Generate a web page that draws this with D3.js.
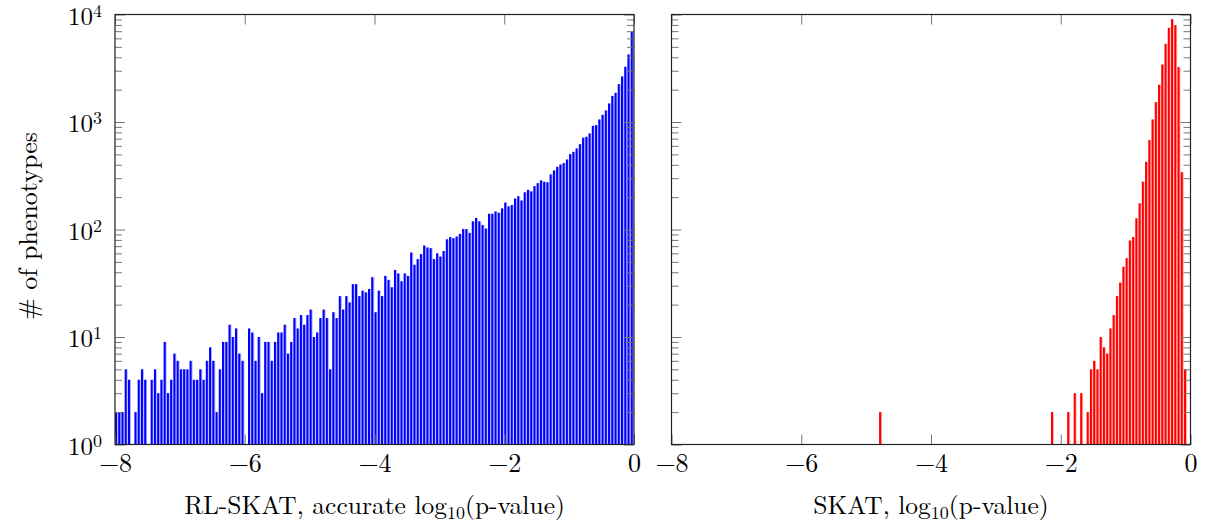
<!DOCTYPE html>
<html>
<head>
<meta charset="utf-8">
<script src="https://cdn.jsdelivr.net/npm/d3@7"></script>
<style>
  body { margin: 0; background: #fff; }
  text { font-family: "Latin Modern Roman", "CMU Serif", "Liberation Serif", serif; fill: #000; }
</style>
</head>
<body>
<script>
// histogram bins: 160 bins of width 0.05 from -8 to 0
var binStart = -8, binWidth = 0.05;

// RL-SKAT, accurate log10(p-value)
var rlskatCounts = [
  2, 2, 2, 5, 4, 1, 2, 4, 5, 4, 1, 4, 5, 3, 4, 9, 3, 4, 7, 6,
  5, 5, 5, 6, 4, 4, 5, 4, 6, 8, 6, 2, 5, 9, 9, 13, 10, 12, 7, 6,
  1, 12, 11, 6, 10, 3, 9, 9, 6, 9, 11, 11, 13, 7, 9, 15, 12, 16, 13, 16,
  18, 10, 11, 15, 18, 15, 5, 17, 15, 24, 18, 24, 21, 31, 31, 24, 27, 26, 28, 36,
  17, 27, 24, 37, 34, 29, 42, 39, 33, 39, 37, 61, 47, 53, 59, 71, 68, 67, 53, 60,
  56, 63, 81, 85, 83, 86, 91, 101, 101, 93, 119, 128, 119, 110, 102, 140, 140, 147, 143, 157,
  178, 164, 169, 194, 204, 186, 222, 234, 226, 253, 270, 286, 278, 275, 325, 354, 383, 402, 414, 448,
  502, 528, 567, 622, 713, 728, 782, 921, 935, 1055, 1167, 1280, 1486, 1750, 1866, 2250, 2650, 3260, 4250, 6900
];

// SKAT, log10(p-value)
var skatCounts = [
  0, 0, 0, 0, 0, 0, 0, 0, 0, 0, 0, 0, 0, 0, 0, 0, 0, 0, 0, 0,
  0, 0, 0, 0, 0, 0, 0, 0, 0, 0, 0, 0, 0, 0, 0, 0, 0, 0, 0, 0,
  0, 0, 0, 0, 0, 0, 0, 0, 0, 0, 0, 0, 0, 0, 0, 0, 0, 0, 0, 0,
  0, 0, 0, 0, 2, 0, 0, 0, 0, 0, 0, 0, 0, 0, 0, 0, 0, 0, 0, 0,
  0, 0, 0, 0, 0, 0, 0, 0, 0, 0, 0, 0, 0, 0, 0, 0, 0, 0, 0, 0,
  0, 0, 0, 0, 0, 0, 0, 0, 0, 0, 0, 0, 0, 0, 0, 0, 0, 2, 0, 0,
  0, 0, 2, 0, 3, 0, 3, 0, 2, 5, 6, 5, 10, 8, 7, 12, 16, 24, 32, 45,
  54, 79, 85, 127, 175, 278, 426, 678, 1055, 1530, 2218, 3426, 5333, 7515, 9055, 7960, 3236, 341, 5, 0
];

var xTicks = [-8, -6, -4, -2, 0];
var yTicks = [1, 10, 100, 1000, 10000];

var width = 519, height = 430;
var plotTop = 14.5;

var svg = d3.select("body").append("svg")
    .attr("width", 1205)
    .attr("height", 524);

var x = d3.scaleLinear().domain([-8, 0]).range([0, width]);
var y = d3.scaleLog().domain([1, 10000]).range([height, 0]);

var minor = [];
yTicks.slice(0, 4).forEach(function (d) {
  for (var k = 2; k <= 9; k++) minor.push(d * k);
});

function panel(left, counts, dark, light, xlabel, showY) {
  var g = svg.append("g").attr("transform", "translate(" + left + "," + plotTop + ")");

  var bins = counts.map(function (c, i) { return { x0: binStart + i * binWidth, c: c }; })
      .filter(function (d) { return d.c > 1; });

  g.selectAll(".lt").data(bins).enter().append("rect")
      .attr("x", function (d) { return x(d.x0); })
      .attr("y", function (d) { return y(d.c); })
      .attr("width", 3)
      .attr("height", function (d) { return height - y(d.c); })
      .attr("fill", light);
  g.selectAll(".dk").data(bins).enter().append("rect")
      .attr("x", function (d) { return x(d.x0); })
      .attr("y", function (d) { return y(d.c); })
      .attr("width", 2)
      .attr("height", function (d) { return height - y(d.c); })
      .attr("fill", dark);

  // ticks, pointing inward on all four sides
  function style(a) {
    a.select(".domain").remove();
    a.selectAll("line").attr("stroke", "#777").attr("stroke-width", 1);
  }
  g.append("g").attr("transform", "translate(0," + height + ")")
      .call(d3.axisBottom(x).tickValues(xTicks).tickSize(-10).tickPadding(9).tickFormat(d3.format("d")))
      .call(style)
      .selectAll("text").attr("font-size", 26).style("font-family", null);
  g.append("g")
      .call(d3.axisTop(x).tickValues(xTicks).tickSize(-10).tickFormat(""))
      .call(style);
  [d3.axisLeft, d3.axisRight].forEach(function (ax, j) {
    var tx = j === 0 ? 0 : width;
    g.append("g").attr("transform", "translate(" + tx + ",0)")
        .call(ax(y).tickValues(yTicks).tickSize(-10).tickFormat(""))
        .call(style);
    g.append("g").attr("transform", "translate(" + tx + ",0)")
        .call(ax(y).tickValues(minor).tickSize(-7).tickFormat(""))
        .call(style);
  });

  if (showY) {
    var lab = g.selectAll(".ylab").data(yTicks).enter().append("text")
        .attr("x", -47)
        .attr("y", function (d) { return y(d); })
        .attr("dy", 10)
        .attr("font-size", 25);
    lab.append("tspan").text("10");
    lab.append("tspan")
        .attr("font-size", 18)
        .attr("dy", -8)
        .text(function (d) { return Math.round(Math.log10(d)); });
  }

  g.append("rect")
      .attr("width", width).attr("height", height)
      .attr("fill", "none").attr("stroke", "#222").attr("stroke-width", 1.2);

  var t = g.append("text")
      .attr("x", width / 2)
      .attr("y", height + 69)
      .attr("text-anchor", "middle")
      .attr("font-size", 25.5);
  t.append("tspan").text(xlabel);
  t.append("tspan").attr("font-size", 18).attr("dy", 5).text("10");
  t.append("tspan").attr("dy", -5).text("(p-value)");
}

panel(115, rlskatCounts, "#0000ff", "#b3b3ff", "RL-SKAT, accurate log", true);
panel(671.5, skatCounts, "#ff0000", "#ffb3b3", "SKAT, log", false);

svg.append("text")
    .attr("transform", "translate(37,226) rotate(-90)")
    .attr("text-anchor", "middle")
    .attr("font-size", 26)
    .text("# of phenotypes");
</script>
</body>
</html>
